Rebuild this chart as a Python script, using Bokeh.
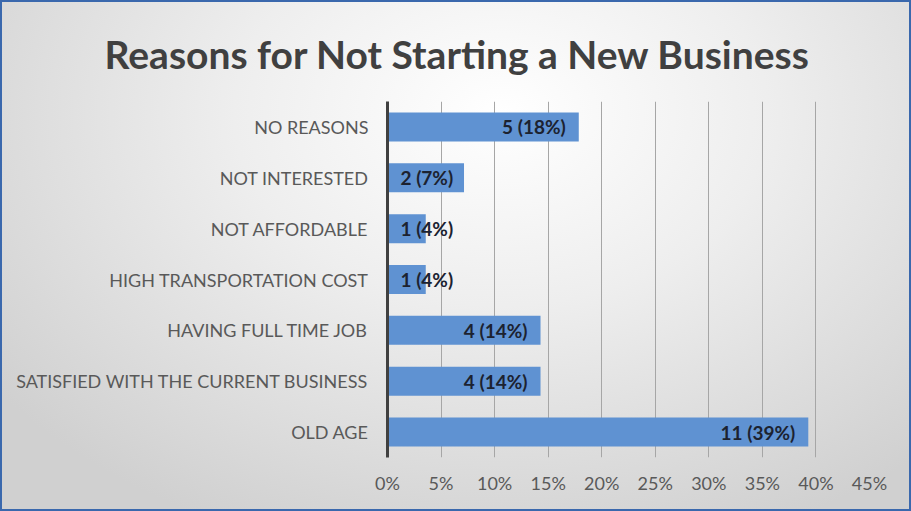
from bokeh.plotting import figure
from bokeh.models import ColumnDataSource, FixedTicker, NumeralTickFormatter
from bokeh.core.properties import value
from bokeh.embed import file_html
from bokeh.resources import INLINE

title_text = "Reasons for Not Starting a New Business"
categories = ["OLD AGE", "SATISFIED WITH THE CURRENT BUSINESS", "HAVING FULL TIME JOB",
              "HIGH TRANSPORTATION COST", "NOT AFFORDABLE", "NOT INTERESTED", "NO REASONS"]
counts = [11, 4, 4, 1, 1, 2, 5]
pct_labels = ["39%", "14%", "14%", "4%", "4%", "7%", "18%"]
total = 28
ticks = [0, 0.05, 0.10, 0.15, 0.20, 0.25, 0.30, 0.35, 0.40, 0.45]

shares = [c / total for c in counts]
labels = [f"{c} ({p})" for c, p in zip(counts, pct_labels)]
big = [s >= 0.10 for s in shares]

src = ColumnDataSource(dict(cat=categories, share=shares))
src_big = ColumnDataSource(dict(cat=[c for c, b in zip(categories, big) if b],
                                share=[s for s, b in zip(shares, big) if b],
                                lab=[l for l, b in zip(labels, big) if b]))
src_small = ColumnDataSource(dict(cat=[c for c, b in zip(categories, big) if not b],
                                  zero=[0 for b in big if not b],
                                  lab=[l for l, b in zip(labels, big) if not b]))

p = figure(width=911, height=511, y_range=categories, x_range=(0, 0.45),
           output_backend="svg", toolbar_location=None,
           min_border_left=385, min_border_right=44, min_border_top=99, min_border_bottom=56)

p.styles = {"background": "radial-gradient(ellipse 70% 90% at 55% 22%, #ffffff 0%, #eeeeee 42%, #d0d0d0 100%)",
            "border": "2px solid #3a68ad", "box-sizing": "border-box"}
p.border_fill_alpha = 0
p.background_fill_alpha = 0
p.outline_line_color = None

p.title.text = title_text
p.title.align = "left"
p.title.offset = -283
p.title.text_font = "Lato"
p.title.text_font_size = "39px"
p.title.text_font_style = "bold"
p.title.text_color = "#404040"
p.title.standoff = 49

p.hbar(y="cat", right="share", left=0, height=0.57, source=src,
       fill_color="#5f92d2", line_color=None)

p.text(x="share", y="cat", text="lab", source=src_big, text_align="right",
       text_baseline="middle", x_offset=-13, text_font=value("Lato"),
       text_font_size="19px", text_font_style="bold", text_color="#1c2230")
p.text(x="zero", y="cat", text="lab", source=src_small, text_align="left",
       text_baseline="middle", x_offset=13, text_font=value("Lato"),
       text_font_size="19px", text_font_style="bold", text_color="#1c2230")

p.xaxis.ticker = FixedTicker(ticks=ticks)
p.xaxis.formatter = NumeralTickFormatter(format="0%")
p.xaxis.axis_line_color = None
p.xaxis.major_tick_line_color = None
p.xaxis.minor_tick_line_color = None
p.xaxis.major_label_text_font = "Lato"
p.xaxis.major_label_text_font_size = "18px"
p.xaxis.major_label_text_color = "#595959"
p.xaxis.major_label_standoff = 8

p.yaxis.axis_line_color = "#404040"
p.yaxis.axis_line_width = 3
p.yaxis.major_tick_line_color = None
p.yaxis.minor_tick_line_color = None
p.yaxis.major_label_text_font = "Lato"
p.yaxis.major_label_text_font_size = "18px"
p.yaxis.major_label_text_color = "#595959"
p.yaxis.major_label_standoff = 13

p.ygrid.grid_line_color = None
p.xgrid.ticker = FixedTicker(ticks=ticks)
p.xgrid.grid_line_color = "#a6a6a6"
p.xgrid.grid_line_width = 1

open("out.html", "w").write(file_html(p, INLINE))
